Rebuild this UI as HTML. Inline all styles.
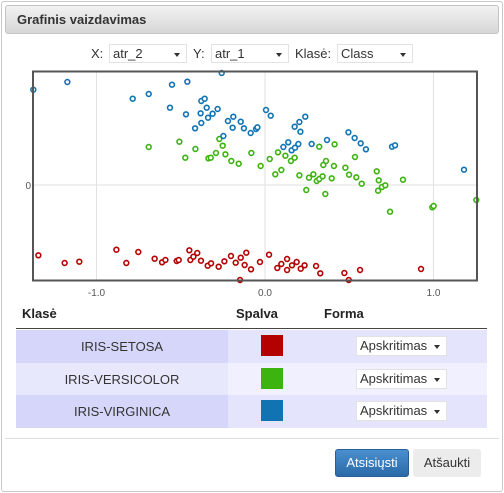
<!DOCTYPE html>
<html><head><meta charset="utf-8"><style>
*{box-sizing:border-box}
body{margin:0;width:504px;height:493px;background:#fff;font-family:"Liberation Sans",sans-serif;position:relative;overflow:hidden}
.abs{position:absolute}
.sel{position:absolute;height:19px;border:1px solid #e2e2e2;background:#fff;font-size:13px;color:#333;padding:1px 0 0 3px}
.sel:after{content:"";position:absolute;right:6px;top:8px;border-left:3px solid transparent;border-right:3px solid transparent;border-top:4px solid #333}
.lbl{position:absolute;font-size:13px;color:#333}
.th{position:absolute;top:306px;font-size:13px;font-weight:bold;color:#222}
.cell{position:absolute;font-size:13px;color:#333;text-align:center}
</style></head><body>
<div class="abs" style="left:1px;top:1px;width:502px;height:491px;border:1px solid #c8c8c8;border-radius:3px"></div>
<div class="abs" style="left:5px;top:5px;width:494px;height:29px;border:1px solid #c4c4c4;border-radius:3px;background:linear-gradient(#f2f2f2,#d6d6d6)"></div>
<div class="abs" style="left:17px;top:12px;font-size:13px;font-weight:bold;color:#333">Grafinis vaizdavimas</div>

<div class="lbl" style="left:91px;top:46px">X:</div>
<div class="sel" style="left:109px;top:44px;width:78px">atr_2</div>
<div class="lbl" style="left:193px;top:46px">Y:</div>
<div class="sel" style="left:211px;top:44px;width:78px">atr_1</div>
<div class="lbl" style="left:295px;top:46px">Klasė:</div>
<div class="sel" style="left:337px;top:44px;width:76px">Class</div>

<svg class="abs" style="left:0;top:0" width="504" height="300">
<g id="grid"></g>
<g id="pts"></g>
<rect x="33" y="71.5" width="444" height="209" fill="none" stroke="#555" stroke-width="2"/>
<g id="ticks"></g>
</svg>

<div class="th" style="left:22px">Klasė</div>
<div class="th" style="left:236px">Spalva</div>
<div class="th" style="left:324px">Forma</div>
<div class="abs" style="left:16px;top:328px;width:471px;height:1px;background:#444"></div>
<div id="rows"></div>

<div class="abs" style="left:5px;top:438px;width:494px;height:1px;background:#ddd"></div>
<div class="abs" style="left:335px;top:449px;width:74px;height:28px;border-radius:3px;background:linear-gradient(#4a8fcf,#2b6aa8);border:1px solid #2a5f95;color:#fff;font-size:13px;text-align:center;line-height:26px">Atsisiųsti</div>
<div class="abs" style="left:413px;top:449px;width:68px;height:28px;border-radius:3px;background:#ececec;color:#333;font-size:13px;text-align:center;line-height:28px">Atšaukti</div>

<script>
const blueX=[-1.375,-1.173,-0.552,-0.461,-0.257,-0.785,-0.690,-0.564,-0.469,-0.378,-0.358,-0.346,-0.382,-0.311,-0.281,-0.338,-0.378,-0.415,-0.247,-0.220,-0.188,-0.192,-0.144,-0.125,-0.085,-0.053,-0.045,0.006,0.034,0.176,0.204,0.239,0.210,0.138,0.109,0.158,0.178,0.198,0.277,0.368,0.495,0.532,0.568,0.599,0.754,0.772,1.181];
const blueY=[0.953,1.03,1.003,1.033,1.12,0.863,0.91,0.773,0.707,0.84,0.863,0.773,0.717,0.713,0.76,0.673,0.62,0.567,0.49,0.64,0.683,0.573,0.633,0.567,0.52,0.56,0.577,0.75,0.693,0.583,0.63,0.683,0.533,0.427,0.38,0.347,0.373,0.41,0.41,0.45,0.527,0.47,0.417,0.357,0.383,0.397,0.153];
const greenX=[-0.690,-0.508,-0.473,-0.413,-0.336,-0.322,-0.291,-0.271,-0.251,-0.235,-0.200,-0.156,-0.081,-0.026,0.028,0.061,0.077,0.097,0.121,0.154,0.176,0.204,0.245,0.261,0.287,0.307,0.322,0.342,0.322,0.346,0.362,0.358,0.396,0.409,0.413,0.477,0.499,0.534,0.542,0.574,0.663,0.675,0.671,0.694,0.714,0.742,0.819,0.993,1.001,1.254];
const greenY=[0.38,0.433,0.273,0.36,0.267,0.273,0.32,0.46,0.393,0.307,0.24,0.213,0.32,0.19,0.26,0.107,0.327,0.15,0.293,0.24,0.273,0.097,-0.05,0.073,0.107,0.04,0.06,0.087,0.383,0.2,0.24,-0.09,0.067,0.19,0.407,0.173,0.103,0.28,0.077,0.013,0.137,0.047,-0.057,-0.02,-0.003,-0.267,0.053,-0.223,-0.21,-0.15];
const redX=[-1.345,-1.189,-1.102,-0.882,-0.823,-0.752,-0.655,-0.611,-0.591,-0.524,-0.512,-0.449,-0.443,-0.425,-0.402,-0.380,-0.340,-0.320,-0.275,-0.241,-0.202,-0.174,-0.144,-0.121,-0.111,-0.148,-0.083,-0.030,0.024,0.073,0.097,0.131,0.131,0.160,0.188,0.212,0.235,0.303,0.328,0.471,0.497,0.564,0.926];
const redY=[-0.703,-0.78,-0.767,-0.647,-0.78,-0.67,-0.737,-0.773,-0.75,-0.76,-0.75,-0.653,-0.75,-0.717,-0.68,-0.757,-0.807,-0.783,-0.817,-0.763,-0.71,-0.777,-0.727,-0.8,-0.677,-0.95,-0.843,-0.77,-0.697,-0.83,-0.79,-0.74,-0.85,-0.803,-0.77,-0.837,-0.803,-0.81,-0.883,-0.88,-0.95,-0.85,-0.84];
const xTicks=[-1.0,0.0,1.0];
const xTickLabels=["-1.0","0.0","1.0"];
const yTicks=[0];
const yTickLabels=["0"];
const classNames=["IRIS-SETOSA","IRIS-VERSICOLOR","IRIS-VIRGINICA"];
const classColors=["#b30000","#3cb30e","#1273b3"];

const NS="http://www.w3.org/2000/svg";
function xs(v){return 265+v*168.5;}
function ys(v){return 185-v*100;}
const grid=document.getElementById('grid'),ticks=document.getElementById('ticks'),pts=document.getElementById('pts');
xTicks.forEach((t,i)=>{
  const l=document.createElementNS(NS,'line');
  l.setAttribute('x1',xs(t));l.setAttribute('x2',xs(t));l.setAttribute('y1',72);l.setAttribute('y2',281);
  l.setAttribute('stroke','#e2e2e2');
  
  
  grid.appendChild(l);
  const tx=document.createElementNS(NS,'text');
  tx.setAttribute('x',xs(t));tx.setAttribute('y',296);tx.setAttribute('text-anchor','middle');
  tx.setAttribute('font-size','10');tx.setAttribute('fill','#555');tx.textContent=xTickLabels[i];
  
  
  ticks.appendChild(tx);
});
yTicks.forEach((t,i)=>{
  const l=document.createElementNS(NS,'line');
  l.setAttribute('x1',33);l.setAttribute('x2',477);l.setAttribute('y1',ys(t));l.setAttribute('y2',ys(t));
  l.setAttribute('stroke','#e2e2e2');
  
  
  grid.appendChild(l);
  const tx=document.createElementNS(NS,'text');
  tx.setAttribute('x',31);tx.setAttribute('y',ys(t)+4);tx.setAttribute('text-anchor','end');
  tx.setAttribute('font-size','10');tx.setAttribute('fill','#555');tx.textContent=yTickLabels[i];
  
  
  ticks.appendChild(tx);
});
function series(X,Y,color,name){
  X.forEach((v,i)=>{
    const c=document.createElementNS(NS,'circle');
    c.setAttribute('cx',xs(v));c.setAttribute('cy',ys(Y[i]));c.setAttribute('r',2.4);
    c.setAttribute('fill','#fff');c.setAttribute('stroke',color);c.setAttribute('stroke-width','1.6');
    
    
    pts.appendChild(c);
  });
}
series(redX,redY,classColors[0],'setosa-point');
series(greenX,greenY,classColors[1],'versicolor-point');
series(blueX,blueY,classColors[2],'virginica-point');

const rows=document.getElementById('rows');
const bg1=[["#d6d6fa","#e4e4fc"],["#e8e8fd","#f0f0fe"],["#d6d6fa","#e4e4fc"]];
classNames.forEach((n,i)=>{
  const top=330+i*32.5;
  const r=document.createElement('div');
  r.className='abs';
  r.style.cssText=`left:16px;top:${top}px;width:471px;height:32.5px;background:linear-gradient(90deg,${bg1[i][0]} 0,${bg1[i][0]} 212px,${bg1[i][1]} 212px)`;
  
  
  r.innerHTML=`<div class="cell" style="left:0;top:9px;width:212px">${n}</div>`;
  const sw=document.createElement('div');
  sw.className='abs';
  sw.style.cssText=`left:245px;top:5px;width:22px;height:21px;background:${classColors[i]}`;
  
  
  r.appendChild(sw);
  const s=document.createElement('div');
  s.className='sel';
  s.style.cssText='left:340px;top:6px;width:91px;height:20px';
  s.textContent='Apskritimas';
  
  
  r.appendChild(s);
  rows.appendChild(r);
});
</script>
</body></html>
